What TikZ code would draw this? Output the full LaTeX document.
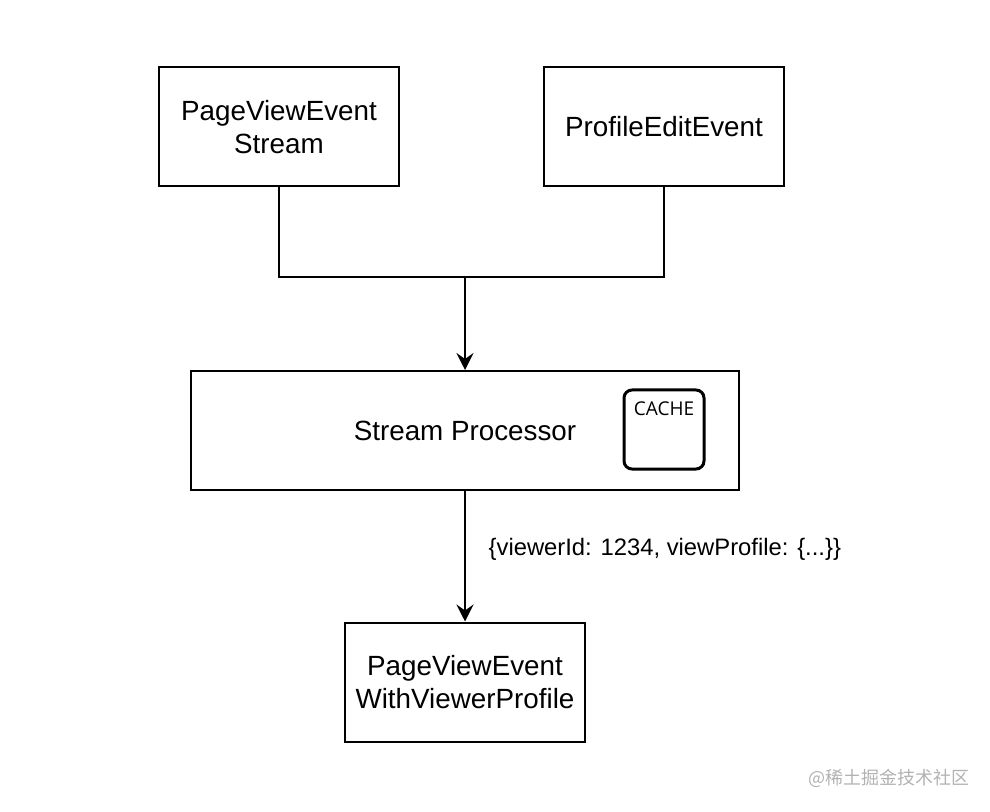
\documentclass[tikz,border=0pt]{standalone}
\usepackage{fontspec}
\setmainfont{Liberation Sans}
\newfontfamily\cachefont{Open Sans}
\newfontfamily\cjkfont{Noto Sans CJK SC}
\usetikzlibrary{arrows.meta}
\pgfdeclarelayer{nodelayer}
\pgfdeclarelayer{edgelayer}
\pgfsetlayers{edgelayer,nodelayer,main}
\tikzstyle{event box}=[fill=white, draw=black, shape=rectangle, line width=1pt, minimum width=120pt, minimum height=59.5pt, align=center, font=\fontsize{13.9}{16.2}\selectfont]
\tikzstyle{processor box}=[event box, minimum width=274pt]
\tikzstyle{cache box}=[fill=white, draw=black, shape=rectangle, rounded corners=4pt, line width=1.5pt, minimum width=40pt, minimum height=39.5pt, label={[anchor=north, inner sep=0pt, yshift=-6.5pt, font=\cachefont\fontsize{9.5}{10}\selectfont]north:CACHE}]
\tikzstyle{edge label}=[font=\fontsize{11.9}{14}\selectfont]
\tikzstyle{watermark}=[text=black!30, font=\cjkfont\fontsize{9}{10}\selectfont]
\tikzstyle{plain edge}=[draw=black, line width=1pt]
\tikzstyle{arrow edge}=[draw=black, line width=1pt, -{Stealth[length=8.5pt, width=8.5pt, inset=3pt]}]

\begin{document}
\begin{tikzpicture}[x=0.5pt, y=-0.5pt]
	\useasboundingbox (0, 0) rectangle (990, 812);
	\begin{pgfonlayer}{nodelayer}
		\node [style=event box] (0) at (279, 127) {PageViewEvent\\Stream};
		\node [style=event box] (1) at (664, 127) {ProfileEditEvent};
		\node [style=processor box] (2) at (465, 430.5) {Stream Processor};
		\node [style=event box] (3) at (465, 682) {PageViewEvent\\WithViewerProfile};
		\node [style=cache box] (4) at (664, 429.5) {};
		\coordinate (5) at (465, 277);
		\node [style=watermark] (6) at (889, 778) {@稀土掘金技术社区};
	\end{pgfonlayer}
	\begin{pgfonlayer}{edgelayer}
		\draw [style=plain edge] (0) |- (5) -| (1);
		\draw [style=arrow edge] (5) to (2);
		\draw [style=arrow edge] (2) to node [style=edge label, right=8pt, pos=0.45] {\{viewerId: 1234, viewProfile: \{...\}\}} (3);
	\end{pgfonlayer}
\end{tikzpicture}
\end{document}
